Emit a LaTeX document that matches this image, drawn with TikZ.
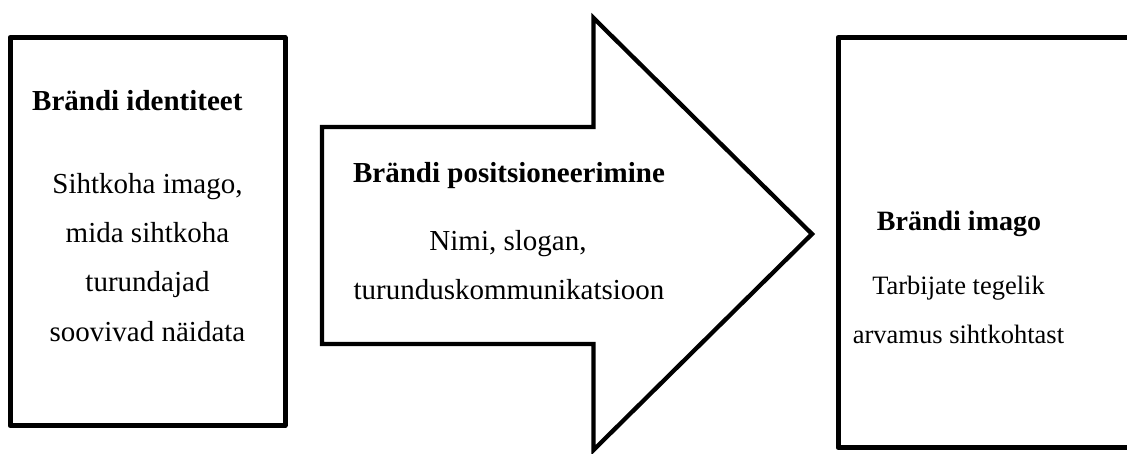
\documentclass[tikz,border=0pt]{standalone}
\usepackage{fontspec}
\setmainfont{Liberation Serif}
\begin{document}
\begin{tikzpicture}[x=1pt,y=-1pt,
  box/.style={draw=black,line width=5pt,line join=round,inner sep=0pt,fill=white},
  arrowshape/.style={draw=black,line width=4.3pt,line join=miter},
  txt/.style={inner sep=0pt,anchor=base,font=\fontsize{29}{34}\selectfont},
  head/.style={txt,font=\fontsize{29}{34}\selectfont\bfseries},
  rtxt/.style={inner sep=0pt,anchor=base,font=\fontsize{26.5}{32}\selectfont}]
\useasboundingbox (0,0) rectangle (1127,453);
\clip (0,0) rectangle (1127,453);
% left box
\node[box,minimum width=275pt,minimum height=388pt] (lbox) at (147.5,231.5) {};
% arrow
\draw[arrowshape] (322,127) coordinate (a1) -- (593.5,127) -- (593.5,18) -- (812,234) coordinate (tip)
  -- (593.5,450) -- (593.5,344) -- (322,344) -- cycle;
% right box
\node[box,minimum width=296pt,minimum height=410pt] (rbox) at (986,242.5) {};
% texts left
\node[head,anchor=base west] (lh) at (32,110) {Brändi identiteet};
\node[txt] (l1) at (147.5,193) {Sihtkoha imago,};
\node[txt] (l2) at (147.5,242) {mida sihtkoha};
\node[txt] (l3) at (147.5,291.5) {turundajad};
\node[txt] (l4) at (147.5,341) {soovivad näidata};
% texts arrow
\node[head] (ah) at (509,182) {Brändi positsioneerimine};
\node[txt] (a1t) at (508,250) {Nimi, slogan,};
\node[txt] (a2t) at (509,299) {turunduskommunikatsioon};
% texts right
\node[head,font=\fontsize{28}{34}\selectfont\bfseries] (rh) at (959,230) {Brändi imago};
\node[rtxt] (r1) at (958.5,294) {Tarbijate tegelik};
\node[rtxt] (r2) at (958.5,343) {arvamus sihtkohtast};
\end{tikzpicture}
\end{document}
